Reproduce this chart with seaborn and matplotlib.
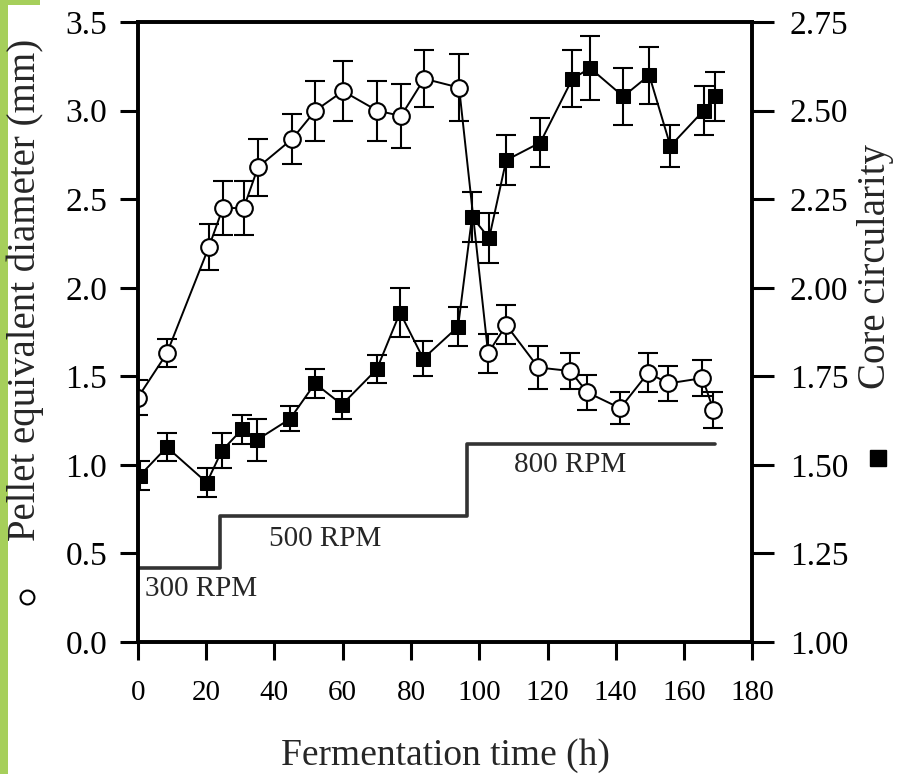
import numpy as np
import pandas as pd
import matplotlib
matplotlib.use("Agg")
import matplotlib.pyplot as plt
from matplotlib.lines import Line2D
from matplotlib.patches import Rectangle
import seaborn as sns

# pellet equivalent diameter (open circles, left axis)
diam_t = [0, 8.5, 20.8, 24.9, 31, 35.2, 45.2, 52, 60.1, 70.1, 77.1, 83.9, 94.1,
          102.6, 107.9, 117.3, 126.7, 131.6, 141.3, 149.5, 155.4, 165.4, 168.6]
diam = [1.38, 1.63, 2.23, 2.45, 2.45, 2.68, 2.84, 3.0, 3.11, 3.0, 2.97, 3.18, 3.13,
        1.63, 1.79, 1.55, 1.53, 1.41, 1.32, 1.52, 1.46, 1.49, 1.31]
diam_err = [0.10, 0.08, 0.13, 0.15, 0.15, 0.16, 0.14, 0.17, 0.17, 0.17, 0.18, 0.16, 0.19,
            0.11, 0.11, 0.12, 0.10, 0.10, 0.09, 0.11, 0.10, 0.10, 0.10]

# core circularity (filled squares, right axis)
circ_t = [0.6, 8.5, 20.2, 24.6, 30.5, 34.8, 44.6, 51.9, 59.8, 70, 76.8, 83.6, 93.8,
          97.9, 102.9, 107.9, 117.9, 127.3, 132.5, 142.2, 149.8, 156, 165.7, 169.2]
circ = [1.47, 1.55, 1.45, 1.54, 1.60, 1.57, 1.63, 1.73, 1.67, 1.77, 1.93, 1.80, 1.89,
        2.20, 2.14, 2.36, 2.41, 2.59, 2.62, 2.54, 2.60, 2.40, 2.50, 2.54]
circ_err = [0.04, 0.04, 0.04, 0.05, 0.04, 0.06, 0.035, 0.04, 0.04, 0.04, 0.07, 0.05, 0.055,
            0.07, 0.07, 0.07, 0.07, 0.08, 0.09, 0.08, 0.08, 0.06, 0.07, 0.07]

# agitation speed steps (drawn on left axis scale)
rpm_t = [0, 24, 96.5, 169]
rpm_level = [0.42, 0.71, 1.12, 1.12]
rpm_labels = ["300 RPM", "500 RPM", "800 RPM"]

sns.set_theme(style="ticks")
plt.rcParams['font.family'] = ['Liberation Serif', 'DejaVu Serif']

fig = plt.figure(figsize=(9.01, 7.74), dpi=100)
ax = fig.add_axes([0.153, 0.1705, 0.682, 0.801])
ax2 = ax.twinx()

df_d = pd.DataFrame({"t": diam_t, "v": diam})
df_c = pd.DataFrame({"t": circ_t, "v": circ})

ax.errorbar(diam_t, diam, yerr=diam_err, fmt='none', ecolor='black',
            elinewidth=1.5, capsize=7, capthick=1.5, zorder=3)
sns.lineplot(data=df_d, x="t", y="v", ax=ax, color='black', linewidth=1.4,
             marker='o', markersize=12, markerfacecolor='white',
             markeredgecolor='black', markeredgewidth=1.5, zorder=4)

ax2.errorbar(circ_t, circ, yerr=circ_err, fmt='none', ecolor='black',
             elinewidth=1.5, capsize=7, capthick=1.5, zorder=3)
sns.lineplot(data=df_c, x="t", y="v", ax=ax2, color='black', linewidth=1.4,
             marker='s', markersize=10, markerfacecolor='black',
             markeredgecolor='black', zorder=4)

ax.step(rpm_t, rpm_level, where='post', color='#333333', linewidth=2.6, zorder=2)
ax.text(2, 0.30, rpm_labels[0], fontsize=21, ha='left', va='center')
ax.text(55, 0.58, rpm_labels[1], fontsize=21, ha='center', va='center')
ax.text(126.5, 1.0, rpm_labels[2], fontsize=21, ha='center', va='center')

ax.set_xlim(0, 180)
ax.set_ylim(0, 3.5)
ax2.set_ylim(1.0, 2.75)
ax.set_xticks(np.arange(0, 181, 20))
ax.set_yticks(np.arange(0, 3.51, 0.5))
ax.set_yticklabels([f"{v:.1f}" for v in np.arange(0, 3.51, 0.5)])
ax2.set_yticks(np.arange(1.0, 2.76, 0.25))
ax2.set_yticklabels([f"{v:.2f}" for v in np.arange(1.0, 2.76, 0.25)])
ax.set_xlabel("Fermentation time (h)", fontsize=27, labelpad=24)
ax.set_ylabel("")
ax2.set_ylabel("")

for a in (ax, ax2):
    for s in a.spines.values():
        s.set_visible(True)
        s.set_color('black')
        s.set_linewidth(2.6)
ax.tick_params(axis='both', direction='out', length=13, width=2.2,
               color='black', labelcolor='black')
ax.tick_params(axis='x', labelsize=21, pad=14)
ax.tick_params(axis='y', labelsize=24, pad=9)
ax2.tick_params(axis='y', direction='out', length=16, width=2.2, labelsize=24,
                pad=11, color='black', labelcolor='black')

fig.text(0.028, 0.625, "Pellet equivalent diameter (mm)", rotation=90,
         fontsize=28, ha='center', va='center')
fig.add_artist(Line2D([0.030], [1 - 597 / 774], marker='o', markersize=10,
                      markerfacecolor='white', markeredgecolor='black',
                      markeredgewidth=1.5, transform=fig.transFigure))
fig.text(0.972, 0.655, "Core circularity", rotation=90,
         fontsize=28, ha='center', va='center')
fig.add_artist(Line2D([0.975], [1 - 458 / 774], marker='s', markersize=11,
                      markerfacecolor='black', markeredgecolor='black',
                      transform=fig.transFigure))

# green scan edge
fig.patches.append(Rectangle((0, 0), 8 / 901, 1, transform=fig.transFigure,
                             facecolor='#a6cf5b', edgecolor='none', zorder=0))
fig.patches.append(Rectangle((0, 1 - 5 / 774), 40 / 901, 5 / 774, transform=fig.transFigure,
                             facecolor='#a6cf5b', edgecolor='none', zorder=0))

fig.savefig("out.png", dpi=100)
